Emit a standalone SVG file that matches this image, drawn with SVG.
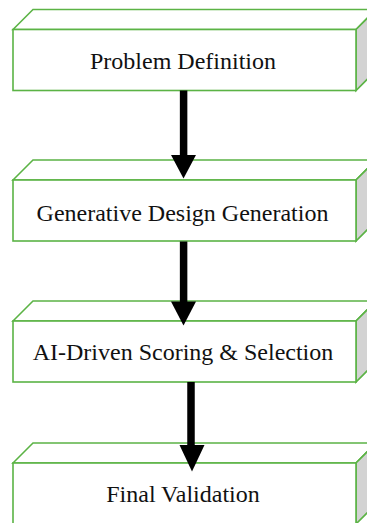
<svg xmlns="http://www.w3.org/2000/svg" width="367" height="523" viewBox="0 0 367 523">
<style>
.f{fill:#ffffff;stroke:#5BB345;stroke-width:1.6;stroke-linejoin:miter}
.s{fill:#D3D3D3;stroke:#5BB345;stroke-width:1.6}
.t{font-family:"Liberation Serif","Times New Roman",serif;font-size:24px;fill:#111;text-anchor:middle}
.sh{stroke:#000;stroke-width:7.5;fill:none}
.hd{fill:#000}
</style>
<defs>
<g id="box">
<polygon class="f" points="0,0 20,-20 363,-20 343,0"/>
<polygon class="s" points="343,0 363,-20 363,41 343,61"/>
<rect class="f" x="0" y="0" width="343" height="61"/>
</g>
</defs>
<rect width="367" height="523" fill="#fff"/>
<g id="node-problem-definition" transform="translate(13,29.5)">
<use href="#box"/>
<text class="t" x="170" y="39">Problem Definition</text>
</g>
<g id="node-generative-design" transform="translate(13,180)">
<use href="#box"/>
<text class="t" x="169.5" y="41">Generative Design Generation</text>
</g>
<g id="node-ai-scoring" transform="translate(13,321)">
<use href="#box"/>
<text class="t" x="170" y="39">AI-Driven Scoring &amp; Selection</text>
</g>
<g id="node-final-validation" transform="translate(13,463)">
<use href="#box"/>
<text class="t" x="170" y="38.7">Final Validation</text>
</g>
<g id="connectors">
<line class="sh" x1="183.6" y1="90.5" x2="183.6" y2="157"/>
<polygon class="hd" points="171,155 196,155 183.5,178.5"/>
<line class="sh" x1="183.6" y1="241.5" x2="183.6" y2="303"/>
<polygon class="hd" points="171,301.5 196,301.5 183.5,325.5"/>
<line class="sh" x1="191" y1="382" x2="191" y2="447"/>
<polygon class="hd" points="179.5,445 204.5,445 192,471.5"/>
</g>
</svg>
